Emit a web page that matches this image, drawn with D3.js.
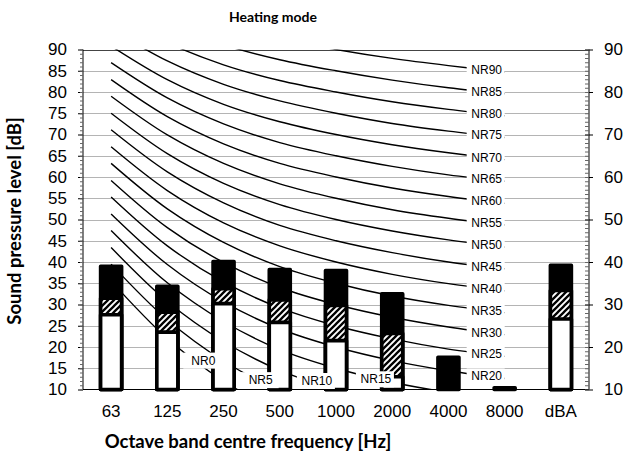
<!DOCTYPE html>
<html><head><meta charset="utf-8">
<script src="https://cdn.jsdelivr.net/npm/d3@7"></script>
<style>
html,body{margin:0;padding:0;background:#fff;}
svg{display:block;}
</style></head>
<body>
<svg id="chart" width="636" height="457"></svg>
<script>
// ---------- data ----------
const bands = ["63","125","250","500","1000","2000","4000","8000","dBA"];
// overlapping bars: black (max), hatched (mid), white (low); null = below axis minimum
const highLevel = [39.0, 34.3, 40.1, 38.2, 38.0, 32.5, 17.6, 10.4, 39.2];
const midLevel  = [31.5, 28.2, 33.7, 31.1, 29.8, 23.2, null, null, 33.3];
const lowLevel  = [27.6, 23.5, 30.2, 25.8, 21.5, 13.0, null, null, 26.6];

// NR rating curves (63 Hz ... 8000 Hz)
const nrNames = ["NR0","NR5","NR10","NR15","NR20","NR25","NR30","NR35","NR40","NR45","NR50","NR55","NR60","NR65","NR70","NR75","NR80","NR85","NR90"];
const nr0  = [35.5, 22.0, 12.0, 4.8, 0, -3.5, -6.1, -8.0];
const nr5  = [39.5, 26.4, 16.7, 9.7, 5, 1.6, -1.0, -2.9];
const nr10 = [43.4, 30.7, 21.3, 14.5, 10, 6.7, 4.2, 2.3];
const nr15 = [47.4, 35.1, 26.0, 19.4, 15, 11.7, 9.3, 7.5];
const nr20 = [51.3, 39.4, 30.6, 24.3, 20, 16.8, 14.4, 12.6];
const nr25 = [55.3, 43.8, 35.3, 29.2, 25, 21.9, 19.5, 17.8];
const nr30 = [59.2, 48.1, 39.9, 34.0, 30, 27.0, 24.7, 22.9];
const nr35 = [63.2, 52.5, 44.6, 38.9, 35, 32.0, 29.8, 28.1];
const nr40 = [67.1, 56.8, 49.2, 43.8, 40, 37.1, 34.9, 33.2];
const nr45 = [71.1, 61.2, 53.9, 48.6, 45, 42.2, 40.0, 38.4];
const nr50 = [75.0, 65.5, 58.5, 53.5, 50, 47.3, 45.2, 43.5];
const nr55 = [79.0, 69.9, 63.2, 58.4, 55, 52.3, 50.3, 48.7];
const nr60 = [82.9, 74.2, 67.8, 63.2, 60, 57.4, 55.4, 53.8];
const nr65 = [86.9, 78.6, 72.5, 68.1, 65, 62.5, 60.5, 59.0];
const nr70 = [90.8, 82.9, 77.1, 73.0, 70, 67.6, 65.7, 64.1];
const nr75 = [94.8, 87.3, 81.8, 77.9, 75, 72.6, 70.8, 69.3];
const nr80 = [98.7, 91.6, 86.4, 82.7, 80, 77.7, 75.9, 74.4];
const nr85 = [102.7, 96.0, 91.1, 87.6, 85, 82.8, 81.0, 79.6];
const nr90 = [106.6, 100.3, 95.7, 92.5, 90, 87.9, 86.2, 84.7];
const nrCurves = [nr0,nr5,nr10,nr15,nr20,nr25,nr30,nr35,nr40,nr45,nr50,nr55,nr60,nr65,nr70,nr75,nr80,nr85,nr90];
// label anchor (fractional band index, dB) for the low curves; others sit near 8000 Hz
const lowLabelIndex = [1.64, 2.66, 3.66, 4.71];
const lowLabelValue = [16.8, 12.2, 12.0, 12.4];

const leftTicks = d3.range(10, 91, 5);
const rightTicks = d3.range(10, 91, 10);

// ---------- layout ----------
const svg = d3.select("#chart");
const L = 83, R = 589, T = 49.5, B = 389.5;
const x = d3.scaleBand().domain(bands).range([L, R]).padding(0);
const xi = d3.scaleLinear().domain([-0.5, bands.length - 0.5]).range([L, R]);
const y = d3.scaleLinear().domain([10, 90]).range([B, T]);
const numFont = "'Liberation Sans', Arial, sans-serif";
const titleFont = "Lato, 'Open Sans', sans-serif";

svg.append("defs").append("clipPath").attr("id","plotclip")
  .append("rect").attr("x", L).attr("y", T).attr("width", R - L).attr("height", B - T);
const pat = svg.select("defs").append("pattern").attr("id","hatch")
  .attr("patternUnits","userSpaceOnUse").attr("width",6).attr("height",6);
pat.append("rect").attr("width",6).attr("height",6).attr("fill","#fff");
pat.append("path").attr("d","M-1,1 l2,-2 M0,6 l6,-6 M5,7 l2,-2")
  .attr("stroke","#000").attr("stroke-width",2.3);

// gridlines
svg.append("g").selectAll("line").data(leftTicks.filter(v => v > 10))
  .join("line")
  .attr("x1", L).attr("x2", R)
  .attr("y1", d => Math.round(y(d)) + 0.5).attr("y2", d => Math.round(y(d)) + 0.5)
  .attr("stroke", d => d === 90 ? "#444" : "#b4b4b4").attr("stroke-width", 1);

// NR curves
const line = d3.line().x((d, i) => xi(i)).y(d => y(d)).curve(d3.curveCatmullRom);
svg.append("g").attr("clip-path","url(#plotclip)")
  .selectAll("path").data(nrCurves).join("path")
  .attr("d", line).attr("fill","none").attr("stroke","#000").attr("stroke-width",1.4);

// bars (overlapping)
const bw = 21;
const barLayers = [
  {vals: highLevel, fill: "#000"},
  {vals: midLevel, fill: "url(#hatch)"},
  {vals: lowLevel, fill: "#fff"}
];
const gb = svg.append("g");
barLayers.forEach(layer => {
  gb.append("g").selectAll("rect")
    .data(bands.map((b, i) => ({b, v: layer.vals[i]})).filter(d => d.v !== null && d.v > 10))
    .join("rect")
    .attr("x", d => x(d.b) + x.bandwidth() / 2 - bw / 2)
    .attr("width", bw)
    .attr("y", d => y(d.v))
    .attr("height", d => y(10) - y(d.v))
    .attr("fill", layer.fill)
    .attr("stroke", "#000").attr("stroke-width", 3.6).attr("stroke-linejoin","round");
});

// NR labels
const labels = nrNames.map((n, k) => k < 4
  ? {n, px: xi(lowLabelIndex[k]), py: y(lowLabelValue[k])}
  : {n, px: xi(6.68), py: y(nrCurves[k][7]) - 2});
const gl = svg.append("g");
labels.forEach(d => {
  const g = gl.append("g").attr("transform", `translate(${d.px},${d.py})`);
  g.append("rect").attr("x", -20).attr("y", -8).attr("width", 38).attr("height", 16).attr("fill", "#fff");
  g.append("text").attr("text-anchor","middle").attr("dominant-baseline","central")
    .attr("font-family", numFont).attr("font-size", 12).attr("fill","#000").text(d.n);
});

// axes frame
svg.append("line").attr("x1", L).attr("x2", L).attr("y1", T).attr("y2", B).attr("stroke","#000");
svg.append("line").attr("x1", R).attr("x2", R).attr("y1", T).attr("y2", B).attr("stroke","#000");
svg.append("line").attr("x1", L).attr("x2", R).attr("y1", B).attr("y2", B).attr("stroke","#000").attr("stroke-width",1.2);

// left axis
const la = svg.append("g").attr("transform", `translate(${L},0)`)
  .call(d3.axisLeft(y).tickValues(leftTicks).tickSize(5).tickPadding(11).tickFormat(d3.format("d")));
la.select(".domain").remove();
la.selectAll("text").attr("font-family", numFont).attr("font-size", 17).attr("fill","#000");
const lm = svg.append("g").attr("transform", `translate(${L},0)`)
  .call(d3.axisLeft(y).tickValues(d3.range(10, 91, 1)).tickSize(3).tickFormat(""));
lm.select(".domain").remove();
lm.selectAll("line").attr("stroke","#666");

// right axis
const ra = svg.append("g").attr("transform", `translate(${R},0)`)
  .call(d3.axisRight(y).tickValues(rightTicks).tickSize(4).tickPadding(11).tickFormat(d3.format("d")));
ra.select(".domain").remove();
ra.selectAll("text").attr("font-family", numFont).attr("font-size", 17).attr("fill","#000");
ra.selectAll("line").attr("x1", -4);
const rm = svg.append("g").attr("transform", `translate(${R},0)`)
  .call(d3.axisRight(y).tickValues(d3.range(10, 91, 1)).tickSize(-4).tickFormat(""));
rm.select(".domain").remove();
rm.selectAll("line").attr("stroke","#666");

// x axis labels
svg.append("g").selectAll("text").data(bands).join("text")
  .attr("x", d => x(d) + x.bandwidth() / 2).attr("y", 411)
  .attr("text-anchor","middle").attr("dominant-baseline","central")
  .attr("font-family", numFont).attr("font-size", 17).attr("fill","#000").text(d => d);

// titles
svg.append("text").attr("x", 273).attr("y", 22).attr("text-anchor","middle")
  .attr("font-family", titleFont).attr("font-weight","bold").attr("font-size", 14).text("Heating mode");
svg.append("text").attr("x", 248).attr("y", 448).attr("text-anchor","middle")
  .attr("font-family", titleFont).attr("font-weight","bold").attr("font-size", 18.5).text("Octave band centre frequency [Hz]");
svg.append("text").attr("transform","translate(21,221) rotate(-90)").attr("text-anchor","middle")
  .attr("font-family", titleFont).attr("font-weight","bold").attr("font-size", 18.5).text("Sound pressure level [dB]");
</script>
</body></html>
